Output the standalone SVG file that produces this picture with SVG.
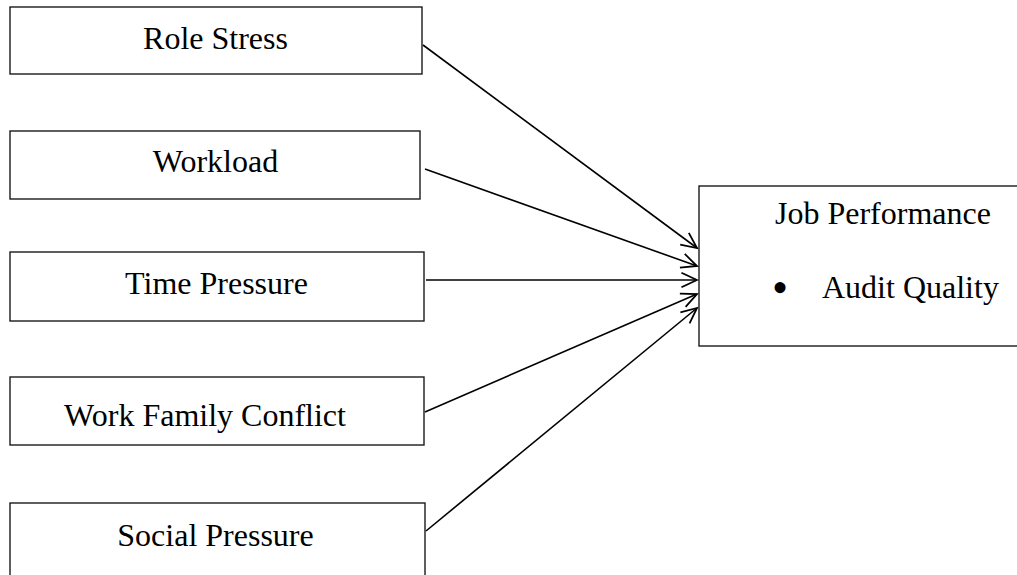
<svg xmlns="http://www.w3.org/2000/svg" width="1017" height="575" viewBox="0 0 1017 575">
<defs>
<style>
.box{fill:#fff;stroke:#1a1a1a;stroke-width:1.4}
.lbl{font-family:"Liberation Serif","Times New Roman",serif;font-size:32px;fill:#000}
.c{text-anchor:middle}
.con{stroke:#000;stroke-width:1.6;fill:none;marker-end:url(#ah)}
</style>
<marker id="ah" markerUnits="userSpaceOnUse" markerWidth="20" markerHeight="20" viewBox="-16 -8 18 16" refX="0" refY="0" orient="auto">
<path d="M-14,-6.5 L0,0 L-14,6.5" fill="none" stroke="#000" stroke-width="1.6"/>
</marker>
</defs>
<rect width="1017" height="575" fill="#fff"/>
<g id="role-stress"><rect class="box" x="10" y="7" width="412" height="67"/><text class="lbl c" x="215.5" y="49">Role Stress</text></g>
<g id="workload"><rect class="box" x="10" y="131" width="410" height="68"/><text class="lbl c" x="215.5" y="172">Workload</text></g>
<g id="time-pressure"><rect class="box" x="10" y="252" width="414" height="69"/><text class="lbl c" x="216.5" y="294">Time Pressure</text></g>
<g id="work-family-conflict"><rect class="box" x="10" y="377" width="414" height="68"/><text class="lbl c" x="205" y="426">Work Family Conflict</text></g>
<g id="social-pressure"><rect class="box" x="10" y="503" width="415" height="80"/><text class="lbl c" x="215.5" y="546">Social Pressure</text></g>
<g id="job-performance"><rect class="box" x="699" y="186" width="330" height="160"/><text class="lbl" x="775" y="224">Job Performance</text><text class="lbl c" x="780" y="303" style="font-size:46px">•</text><text class="lbl" x="822" y="298">Audit Quality</text></g>
<g id="connectors">
<line class="con" x1="423" y1="45" x2="697" y2="248"/>
<line class="con" x1="425" y1="169" x2="697" y2="266"/>
<line class="con" x1="426" y1="280" x2="697" y2="280"/>
<line class="con" x1="425" y1="412" x2="697" y2="294"/>
<line class="con" x1="426" y1="531" x2="697" y2="308"/>
</g>
</svg>
